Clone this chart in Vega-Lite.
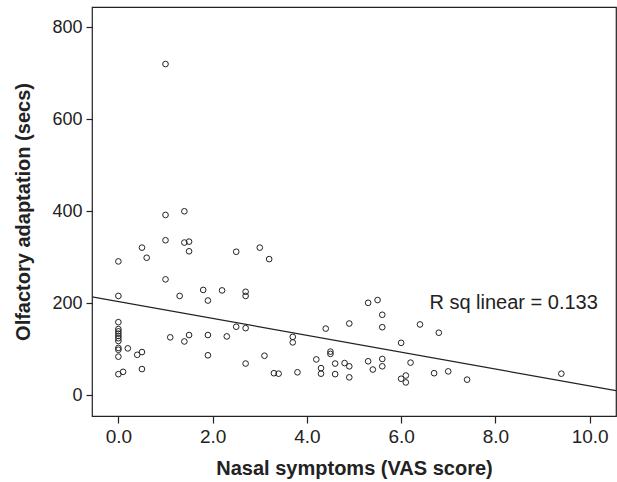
{
  "$schema": "https://vega.github.io/schema/vega-lite/v6.json",
  "width": 524,
  "height": 409,
  "autosize": {"type": "none"},
  "padding": {"left": 92, "top": 7, "right": 1, "bottom": 66},
  "background": "white",
  "config": {
    "font": "Liberation Sans",
    "view": {"stroke": "#222", "strokeWidth": 1.2},
    "axis": {
      "grid": false,
      "domain": false,
      "tickColor": "#222",
      "tickWidth": 1.2,
      "labelColor": "#222",
      "titleColor": "#222",
      "labelFont": "Liberation Sans",
      "titleFont": "Liberation Sans"
    }
  },
  "datasets": {
    "pts": [
      {"symptoms": 0, "adaptation": 291}, {"symptoms": 0, "adaptation": 216}, {"symptoms": 0, "adaptation": 159},
      {"symptoms": 0, "adaptation": 144}, {"symptoms": 0, "adaptation": 139}, {"symptoms": 0, "adaptation": 134},
      {"symptoms": 0, "adaptation": 129}, {"symptoms": 0, "adaptation": 124}, {"symptoms": 0, "adaptation": 118},
      {"symptoms": 0, "adaptation": 103}, {"symptoms": 0, "adaptation": 99}, {"symptoms": 0, "adaptation": 84},
      {"symptoms": 0, "adaptation": 46},
      {"symptoms": 0.1, "adaptation": 51},
      {"symptoms": 0.2, "adaptation": 102},
      {"symptoms": 0.4, "adaptation": 88},
      {"symptoms": 0.5, "adaptation": 321}, {"symptoms": 0.5, "adaptation": 94}, {"symptoms": 0.5, "adaptation": 57},
      {"symptoms": 0.6, "adaptation": 299},
      {"symptoms": 1.0, "adaptation": 720}, {"symptoms": 1.0, "adaptation": 392}, {"symptoms": 1.0, "adaptation": 337}, {"symptoms": 1.0, "adaptation": 252},
      {"symptoms": 1.1, "adaptation": 126},
      {"symptoms": 1.3, "adaptation": 216},
      {"symptoms": 1.4, "adaptation": 400}, {"symptoms": 1.4, "adaptation": 332}, {"symptoms": 1.4, "adaptation": 117},
      {"symptoms": 1.5, "adaptation": 334}, {"symptoms": 1.5, "adaptation": 313}, {"symptoms": 1.5, "adaptation": 131},
      {"symptoms": 1.8, "adaptation": 229},
      {"symptoms": 1.9, "adaptation": 206}, {"symptoms": 1.9, "adaptation": 131}, {"symptoms": 1.9, "adaptation": 87},
      {"symptoms": 2.2, "adaptation": 228},
      {"symptoms": 2.3, "adaptation": 128},
      {"symptoms": 2.5, "adaptation": 312}, {"symptoms": 2.5, "adaptation": 149},
      {"symptoms": 2.7, "adaptation": 225}, {"symptoms": 2.7, "adaptation": 216}, {"symptoms": 2.7, "adaptation": 146}, {"symptoms": 2.7, "adaptation": 69},
      {"symptoms": 3.0, "adaptation": 321},
      {"symptoms": 3.1, "adaptation": 86},
      {"symptoms": 3.2, "adaptation": 296},
      {"symptoms": 3.3, "adaptation": 48},
      {"symptoms": 3.4, "adaptation": 47},
      {"symptoms": 3.7, "adaptation": 127}, {"symptoms": 3.7, "adaptation": 115},
      {"symptoms": 3.8, "adaptation": 50},
      {"symptoms": 4.2, "adaptation": 78},
      {"symptoms": 4.3, "adaptation": 59}, {"symptoms": 4.3, "adaptation": 47},
      {"symptoms": 4.4, "adaptation": 145},
      {"symptoms": 4.5, "adaptation": 95}, {"symptoms": 4.5, "adaptation": 90},
      {"symptoms": 4.6, "adaptation": 69}, {"symptoms": 4.6, "adaptation": 46},
      {"symptoms": 4.8, "adaptation": 70},
      {"symptoms": 4.9, "adaptation": 156}, {"symptoms": 4.9, "adaptation": 63}, {"symptoms": 4.9, "adaptation": 39},
      {"symptoms": 5.3, "adaptation": 201}, {"symptoms": 5.3, "adaptation": 74},
      {"symptoms": 5.4, "adaptation": 56},
      {"symptoms": 5.5, "adaptation": 207},
      {"symptoms": 5.6, "adaptation": 175}, {"symptoms": 5.6, "adaptation": 148}, {"symptoms": 5.6, "adaptation": 79}, {"symptoms": 5.6, "adaptation": 63},
      {"symptoms": 6.0, "adaptation": 114}, {"symptoms": 6.0, "adaptation": 36},
      {"symptoms": 6.1, "adaptation": 43}, {"symptoms": 6.1, "adaptation": 28},
      {"symptoms": 6.2, "adaptation": 71},
      {"symptoms": 6.4, "adaptation": 154},
      {"symptoms": 6.7, "adaptation": 48},
      {"symptoms": 6.8, "adaptation": 136},
      {"symptoms": 7.0, "adaptation": 52},
      {"symptoms": 7.4, "adaptation": 34},
      {"symptoms": 9.4, "adaptation": 47}
    ]
  },
  "encoding": {
    "x": {
      "field": "symptoms",
      "type": "quantitative",
      "scale": {"domain": [-0.56, 10.56], "nice": false, "zero": false},
      "axis": {
        "values": [0, 2, 4, 6, 8, 10],
        "format": ".1f",
        "labelFontSize": 19,
        "tickSize": 7,
        "labelPadding": 4,
        "title": "Nasal symptoms (VAS score)",
        "titleFontSize": 20,
        "titleFontWeight": "bold",
        "titleY": 52,
        "titleBaseline": "middle"
      }
    },
    "y": {
      "field": "adaptation",
      "type": "quantitative",
      "scale": {"domain": [-45, 844], "nice": false, "zero": false},
      "axis": {
        "values": [0, 200, 400, 600, 800],
        "labelFontSize": 18,
        "tickSize": 6,
        "labelPadding": 4,
        "title": "Olfactory adaptation (secs)",
        "titleFontSize": 20,
        "titleFontWeight": "bold",
        "titleAngle": -90,
        "titleX": -69,
        "titleY": 204.5,
        "titleAlign": "center",
        "titleBaseline": "middle"
      }
    }
  },
  "layer": [
    {
      "data": {"name": "pts"},
      "mark": {"type": "point", "shape": "circle", "filled": false, "stroke": "#222", "strokeWidth": 1, "size": 32, "opacity": 1}
    },
    {
      "data": {"name": "pts"},
      "transform": [{"regression": "adaptation", "on": "symptoms", "extent": [-0.56, 10.56]}],
      "mark": {"type": "line", "color": "#222", "strokeWidth": 1.2, "clip": true}
    },
    {
      "data": {"values": [{"symptoms": 6.6, "adaptation": 201, "label": "R sq linear = 0.133"}]},
      "mark": {"type": "text", "align": "left", "baseline": "middle", "fontSize": 20, "color": "#222"},
      "encoding": {"text": {"field": "label"}}
    }
  ]
}
